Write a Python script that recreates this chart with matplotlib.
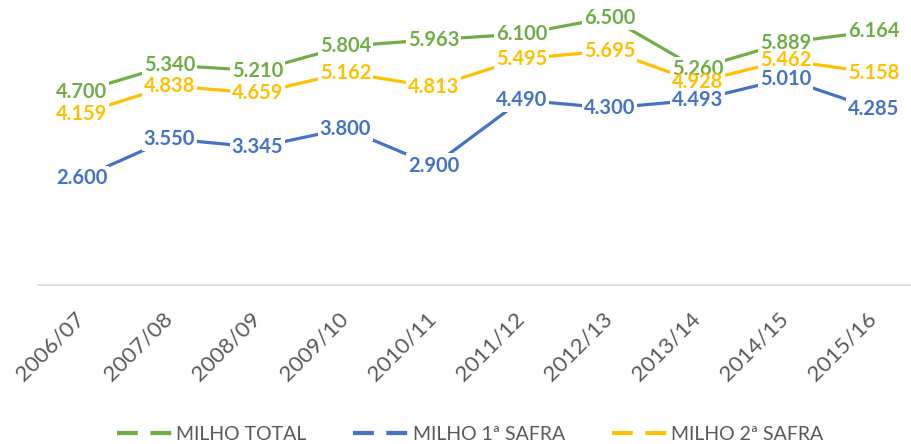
import matplotlib
matplotlib.use("Agg")
import matplotlib.pyplot as plt
from matplotlib.lines import Line2D

plt.rcParams['font.family'] = ['Lato', 'DejaVu Sans']
plt.rcParams['lines.scale_dashes'] = False

categories = ["2006/07", "2007/08", "2008/09", "2009/10", "2010/11",
              "2011/12", "2012/13", "2013/14", "2014/15", "2015/16"]
milho_total = [4.700, 5.340, 5.210, 5.804, 5.963, 6.100, 6.500, 5.260, 5.889, 6.164]
milho_1safra = [2.600, 3.550, 3.345, 3.800, 2.900, 4.490, 4.300, 4.493, 5.010, 4.285]
milho_2safra = [4.159, 4.838, 4.659, 5.162, 4.813, 5.495, 5.695, 4.928, 5.462, 5.158]

series = [
    ("MILHO TOTAL", milho_total, "#70AD47"),
    ("MILHO 1ª SAFRA", milho_1safra, "#4472C4"),
    ("MILHO 2ª SAFRA", milho_2safra, "#FFC000"),
]

W, H = 912, 444
fig = plt.figure(figsize=(W / 100, H / 100), dpi=100)
left_px, zero_px, cat_w, px_unit = 37.5, 284.7, 88.0, 41.1
ax = fig.add_axes([left_px / W, (H - zero_px) / H,
                   cat_w * len(categories) / W, 7 * px_unit / H])

x = list(range(len(categories)))
for name, vals, col in series:
    ax.plot(x, vals, color=col, lw=2.3, solid_capstyle='butt', zorder=2)
# white boxes break the lines under labels; label texts drawn above all boxes
for name, vals, col in series:
    for xi, v in zip(x, vals):
        ax.text(xi, v, f"{v:.3f}", color='white', alpha=0, fontsize=14.5,
                fontweight='bold', ha='center', va='center', zorder=3,
                bbox=dict(boxstyle='square,pad=0.1', fc='white', ec='none',
                          alpha=1))
for name, vals, col in series:
    for xi, v in zip(x, vals):
        ax.text(xi, v, f"{v:.3f}", color=col, fontsize=14.5, fontweight='bold',
                ha='center', va='center', zorder=4)

ax.set_xlim(-0.5, len(categories) - 0.5)
ax.set_ylim(0, 7)
for s in ['top', 'right', 'left']:
    ax.spines[s].set_visible(False)
ax.spines['bottom'].set_color('#d9d9d9')
ax.spines['bottom'].set_linewidth(1.2)
ax.set_yticks([])
ax.set_xticks(x)
ax.set_xticklabels(categories, rotation=45, ha='right', va='center',
                   rotation_mode='anchor', fontsize=16, color='#595959')
ax.tick_params(axis='x', length=0, pad=22)

handles = [Line2D([], [], color=col, lw=3, linestyle=(0, (15, 9)))
           for _, _, col in series]
fig.legend(handles, [s[0] for s in series], loc='center',
           bbox_to_anchor=(470 / W, (H - 434) / H), ncol=3, frameon=False,
           fontsize=14, labelcolor='#595959', handlelength=2.9,
           handletextpad=0.15, columnspacing=2.4)

fig.savefig("out.png", dpi=100)
